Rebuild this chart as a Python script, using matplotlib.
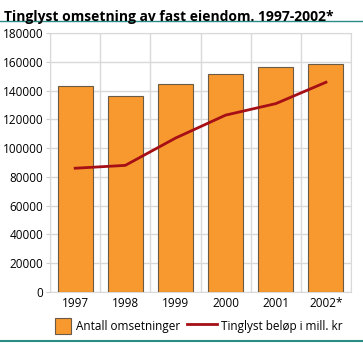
import numpy as np
import matplotlib.pyplot as plt
from matplotlib.lines import Line2D
from matplotlib.patches import Patch, Rectangle
from matplotlib.legend_handler import HandlerPatch

years = ["1997", "1998", "1999", "2000", "2001", "2002*"]
antall = [143500, 136300, 144400, 151600, 156200, 158500]
belop = [86000, 88000, 107000, 123000, 131000, 145900]

plt.rcParams['font.family'] = ['Open Sans', 'DejaVu Sans']


class SquareHandler(HandlerPatch):
    # draws the bar legend key as a square instead of a wide box
    def create_artists(self, legend, orig_handle, xdescent, ydescent,
                       width, height, fontsize, trans):
        side = height * 1.15
        r = Rectangle((width - side - xdescent, -ydescent - (side - height) / 2), side, side,
                      facecolor=orig_handle.get_facecolor(),
                      edgecolor=orig_handle.get_edgecolor(),
                      linewidth=orig_handle.get_linewidth(), transform=trans)
        return [r]


fig = plt.figure(figsize=(3.63, 3.45), dpi=100)
ax = fig.add_axes([0.138, 0.1545, 0.829, 0.749])

x = np.arange(len(years))
ax.bar(x, antall, width=0.7, color='#F7992F', edgecolor='#6b5a45', linewidth=0.8, zorder=3)
ax.plot(x, belop, color='#A50F15', linewidth=2, zorder=4)

ax.set_xlim(-0.5, len(years) - 0.5)
ax.set_ylim(0, 180000)
ax.set_yticks(np.arange(0, 180001, 20000))
ax.set_xticks(x)
ax.set_xticklabels(years)
ax.set_xticks(np.arange(-0.5, len(years)), minor=True)
ax.tick_params(axis='x', which='both', length=0, labelsize=8.5, pad=4)
ax.tick_params(axis='y', length=3, color='#cccccc', labelsize=8.5, pad=2)
ax.grid(axis='y', color='#d9d9d9', linewidth=1, zorder=0)
ax.grid(axis='x', which='minor', color='#d9d9d9', linewidth=1, zorder=0)
for s in ax.spines.values():
    s.set_color('#d9d9d9')

fig.text(0.011, 0.97, "Tinglyst omsetning av fast eiendom. 1997-2002*",
         fontsize=10, fontweight='bold', va='top', ha='left')
fig.add_artist(Line2D([0, 1], [0.939, 0.939], color='#2a8c85', linewidth=1))
fig.add_artist(Line2D([0, 1], [0.012, 0.012], color='#2a8c85', linewidth=1.5))

bar_key = Patch(facecolor='#F7992F', edgecolor='#6b5a45', linewidth=0.8)
line_key = Line2D([], [], color='#A50F15', linewidth=2)
fig.legend([bar_key, line_key], ["Antall omsetninger", "Tinglyst beløp i mill. kr"],
           loc='center', bbox_to_anchor=(0.53, 0.055), ncol=2, frameon=False,
           fontsize=8.5, handlelength=2.5, handleheight=1.5, columnspacing=0.6,
           handletextpad=0.4, handler_map={Patch: SquareHandler()})

fig.savefig("out.png", dpi=100)
